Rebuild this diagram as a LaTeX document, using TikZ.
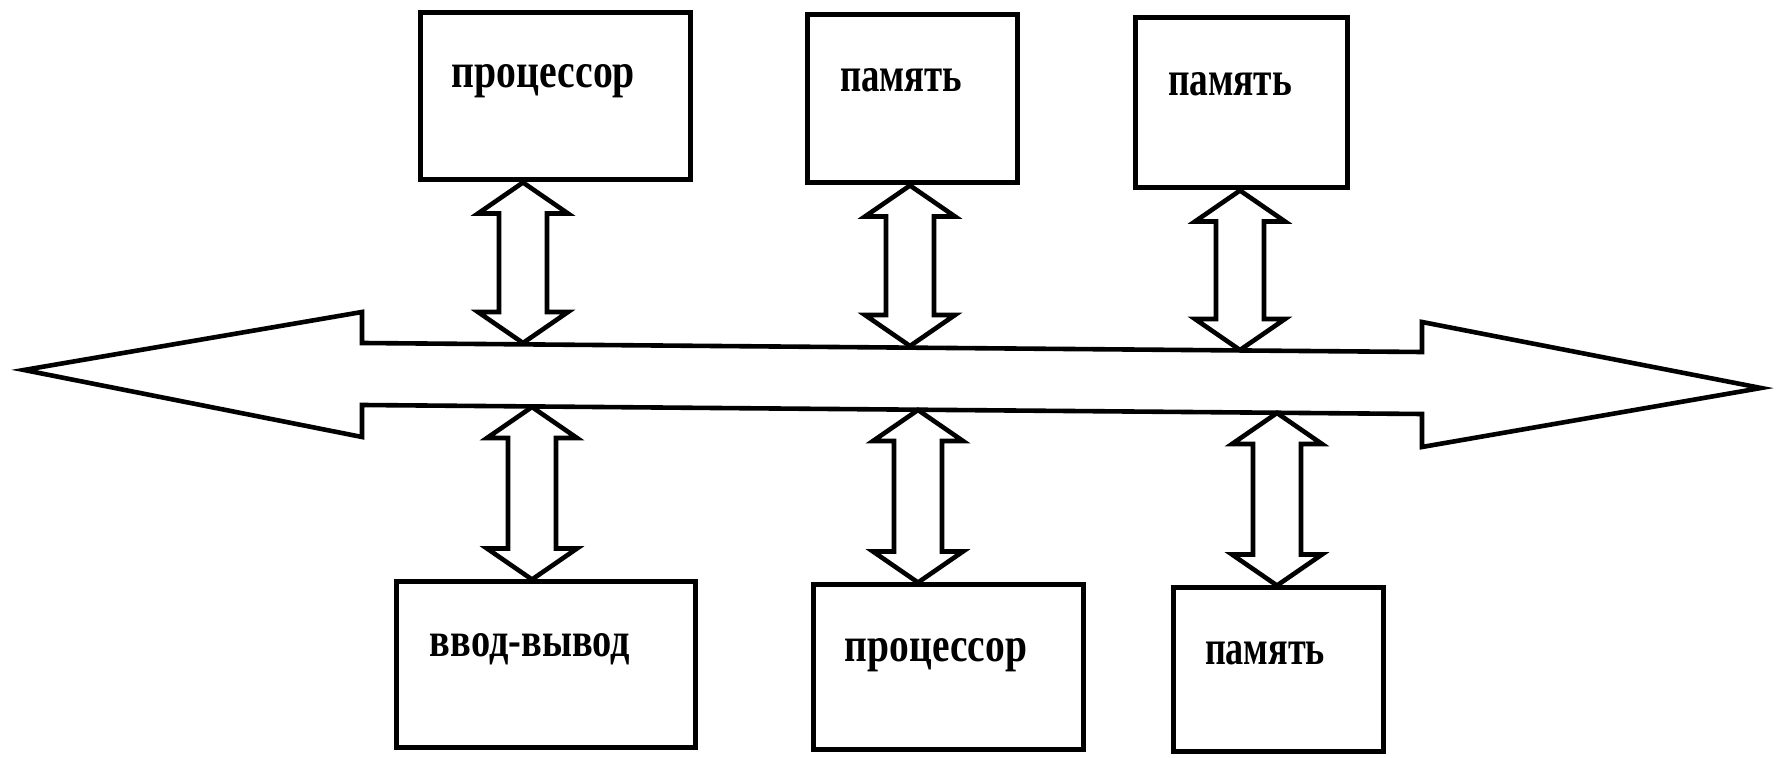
\documentclass[tikz,border=0pt]{standalone}
\usepackage{fontspec}
\setmainfont{Liberation Serif}
\usepackage{graphicx}
\usetikzlibrary{calc,fit}
\tikzset{
  box/.style={draw=black, line width=2.5pt, inner sep=0pt, fill=white},
  lbl/.style={inner sep=0pt, anchor=base, font=\bfseries},
  busshape/.style={draw=black, line width=2.3pt, line join=miter, fill=white},
  dblarrow/.style={draw=black, line width=2.3pt, line join=miter, fill=white},
}
\newcommand\lbltext[2]{\resizebox{#1}{11.5pt}{#2}}
\newcommand\busarrow[2]{%
  \draw[dblarrow] let \p1=(#1), \p2=(#2) in
    (\x1,\y1) -- ({\x1+22.5pt},{\y1-15.5pt}) -- ({\x1+12pt},{\y1-15.5pt})
    -- ({\x2+12pt},{\y2+15.5pt}) -- ({\x2+22.5pt},{\y2+15.5pt}) -- (\x2,\y2)
    -- ({\x2-22.5pt},{\y2+15.5pt}) -- ({\x2-12pt},{\y2+15.5pt})
    -- ({\x1-12pt},{\y1-15.5pt}) -- ({\x1-22.5pt},{\y1-15.5pt}) -- cycle;}
\begin{document}
\begin{tikzpicture}[x=0.5pt,y=-0.5pt]
\fill[white] (0,0) rectangle (1785,758);
\useasboundingbox (0,0) rectangle (1785,758);

% bus
\draw[busshape] (24,370) -- (362,312) -- (362,343) -- (1422,352) -- (1422,322)
  -- (1761,388) -- (1422,447) -- (1422,414) -- (362,405) -- (362,437) -- cycle;

% boxes
\node[box, fit={(420,13) (690,180)}] (p1) {};
\node[box, fit={(807,15) (1017,183)}] (m1) {};
\node[box, fit={(1135,18) (1347,188)}] (m2) {};
\node[box, fit={(396,582) (695,748)}] (io) {};
\node[box, fit={(813,585) (1083,750)}] (p2) {};
\node[box, fit={(1173,588) (1383,752)}] (m3) {};

% labels
\node[lbl] (p1t) at (543.5,88) {\lbltext{91.5pt}{процессор}};
\node[lbl] (m1t) at (901,92) {\lbltext{61pt}{память}};
\node[lbl] (m2t) at (1230,96) {\lbltext{62pt}{память}};
\node[lbl] (iot) at (530,657) {\lbltext{100pt}{ввод-вывод}};
\node[lbl] (p2t) at (936,662) {\lbltext{91pt}{процессор}};
\node[lbl] (m3t) at (1265,665) {\lbltext{60pt}{память}};

% connection points
\coordinate (a1t) at (523,0 |- p1.south);
\coordinate (a1b) at (523,343);
\coordinate (a2t) at (910,0 |- m1.south);
\coordinate (a2b) at (910,346);
\coordinate (a3t) at (1240,0 |- m2.south);
\coordinate (a3b) at (1240,350);
\coordinate (b1t) at (532,407);
\coordinate (b1b) at (532,0 |- io.north);
\coordinate (b2t) at (918,410);
\coordinate (b2b) at (918,0 |- p2.north);
\coordinate (b3t) at (1277,413);
\coordinate (b3b) at (1277,0 |- m3.north);

\busarrow{a1t}{a1b}
\busarrow{a2t}{a2b}
\busarrow{a3t}{a3b}
\busarrow{b1t}{b1b}
\busarrow{b2t}{b2b}
\busarrow{b3t}{b3b}
\end{tikzpicture}
\end{document}
